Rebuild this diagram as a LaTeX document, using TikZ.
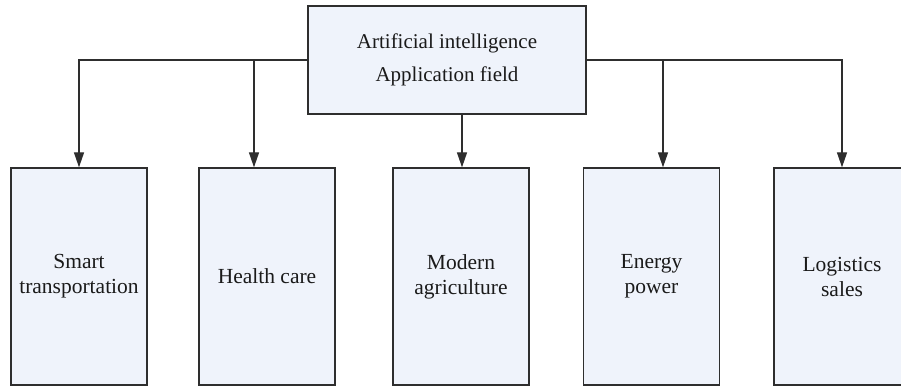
\documentclass[tikz,border=0pt]{standalone}
\usepackage{fontspec}
\setmainfont{Liberation Serif}
\usetikzlibrary{arrows.meta}
\definecolor{boxfill}{HTML}{EFF3FB}
\definecolor{lineclr}{HTML}{2E2E2E}
\definecolor{txtclr}{HTML}{1A1A1A}
\tikzset{
  box/.style={draw=lineclr, line width=1.3pt, fill=boxfill, rectangle, inner sep=0pt,
    text=txtclr, align=center, font=\fontsize{21.5}{25}\selectfont},
  topbox/.style={box, minimum width=278pt, minimum height=108pt, font=\fontsize{21}{33}\selectfont},
  leaf/.style={box, minimum width=136pt, minimum height=217pt},
  arr/.style={draw=lineclr, line width=1.3pt, -{Triangle[length=15pt,width=10pt]}}
}
\begin{document}
\begin{tikzpicture}[x=1pt,y=1pt]
\useasboundingbox (0,0) rectangle (901,-387);
\node[topbox] (top) at (447,-60) {Artificial intelligence\\Application field};
\node[leaf] (b1) at (79,-276.5) {Smart\\transportation};
\node[leaf] (b2) at (267,-276.5) {Health care};
\node[leaf] (b3) at (461,-276.5) {Modern\\agriculture};
\node[leaf] (b4) at (651.5,-276.5) {Energy\\power};
\node[leaf] (b5) at (842,-276.5) {Logistics\\sales};
\coordinate (j2) at (254,-60);
\coordinate (j4) at (663,-60);
\coordinate (m) at (462,-114);
\draw[arr] (top.west) -| (b1.north);
\draw[arr] (top.east) -| (b5.north);
\draw[arr] (j2) -- (j2 |- b2.north);
\draw[arr] (j4) -- (j4 |- b4.north);
\draw[arr] (m) -- (m |- b3.north);
\end{tikzpicture}
\end{document}
